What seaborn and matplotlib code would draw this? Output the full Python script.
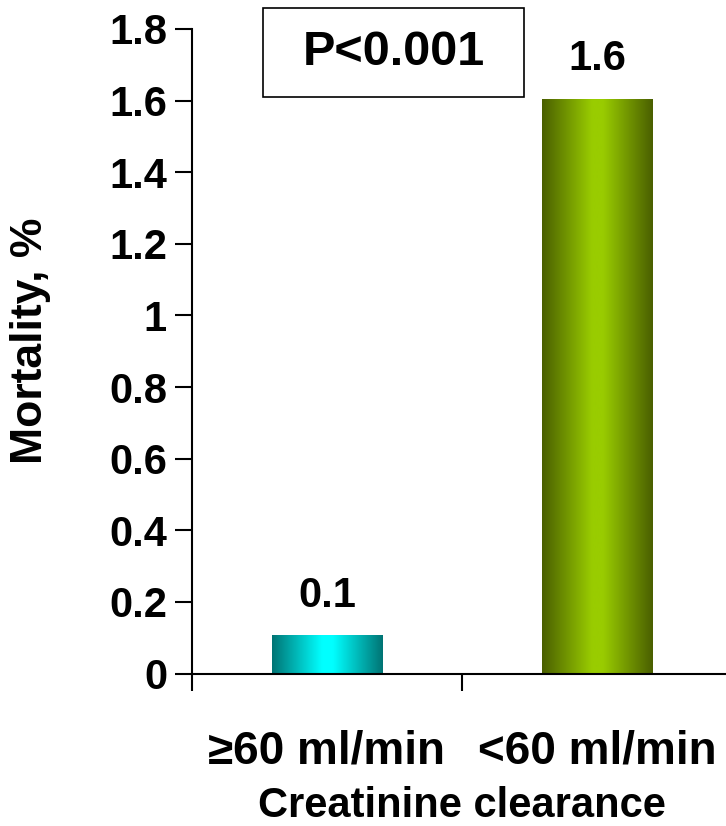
import numpy as np
import pandas as pd
import matplotlib
matplotlib.use("Agg")
import matplotlib.pyplot as plt
from matplotlib.colors import LinearSegmentedColormap
from matplotlib.patches import Rectangle
import seaborn as sns

# Data
categories = ["≥60 ml/min", "<60 ml/min"]
mortality = [0.107, 1.605]
bar_labels = ["0.1", "1.6"]
edge_colors = ["#007474", "#4a5f00"]
center_colors = ["#00ffff", "#99cc00"]

df = pd.DataFrame({"clearance": categories, "mortality": mortality})

sns.set_style("white")
plt.rcParams["font.family"] = ["Liberation Sans", "DejaVu Sans"]
plt.rcParams["font.weight"] = "bold"
plt.rcParams["text.color"] = "black"
plt.rcParams["axes.labelcolor"] = "black"
plt.rcParams["xtick.color"] = "black"
plt.rcParams["ytick.color"] = "black"

fig = plt.figure(figsize=(7.26, 8.26), dpi=100)
ax = fig.add_axes([192 / 726, 1 - 673.5 / 826, 540 / 726, 644.5 / 826])

sns.barplot(data=df, x="clearance", y="mortality", ax=ax, width=0.41,
            color="white", saturation=1, edgecolor="none")

# cylinder-like horizontal gradient for each bar
grad = np.linspace(0, 1, 256).reshape(1, -1)
for patch, c_edge, c_mid in zip(ax.patches, edge_colors, center_colors):
    cmap = LinearSegmentedColormap.from_list(
        "g", [(0, c_edge), (0.45, c_mid), (0.55, c_mid), (1, c_edge)])
    x0, y0 = patch.get_x(), patch.get_y()
    w, h = patch.get_width(), patch.get_height()
    im = ax.imshow(grad, cmap=cmap, aspect="auto", extent=[x0, x0 + w, y0, y0 + h],
                   zorder=2, interpolation="bilinear")
    im.set_clip_path(patch)
    patch.set_facecolor("none")

ax.set_xlim(-0.5, 1.5)
ax.set_ylim(0, 1.8)
ax.set_yticks(np.arange(0, 1.81, 0.2))
ax.set_yticklabels(["0", "0.2", "0.4", "0.6", "0.8", "1", "1.2", "1.4", "1.6", "1.8"])

for rect, lab in zip(ax.patches, bar_labels):
    ax.annotate(lab, (rect.get_x() + rect.get_width() / 2, rect.get_height()),
                xytext=(0, 14), textcoords="offset points", ha="center", va="bottom",
                fontsize=30, fontweight="bold")

ax.set_xticks([0, 1])
ax.set_xticklabels(categories)
ax.set_xticks([-0.5, 0.5, 1.5], minor=True)
ax.tick_params(axis="x", which="major", length=0, pad=40, labelsize=33)
ax.tick_params(axis="x", which="minor", length=12, width=1.5, direction="out", bottom=True)
ax.tick_params(axis="y", length=12, width=1.5, direction="out", left=True, pad=6, labelsize=30)

for s in ["top", "right"]:
    ax.spines[s].set_visible(False)
for s in ["left", "bottom"]:
    ax.spines[s].set_color("black")
    ax.spines[s].set_linewidth(1.5)

ax.set_ylabel("Mortality, %", fontsize=32, fontweight="bold")
ax.yaxis.set_label_coords(-0.262, 0.516)
ax.set_xlabel("Creatinine clearance", fontsize=30, fontweight="bold")
ax.xaxis.label.set_verticalalignment("baseline")
ax.xaxis.set_label_coords(0.5, -0.222)

# P value box
ax.add_patch(Rectangle((0.1315, 0.895), 0.483, 0.137, transform=ax.transAxes,
                       fill=False, edgecolor="black", linewidth=1.2, clip_on=False))
ax.text(0.1315 + 0.483 / 2, 0.895 + 0.137 / 2, "P<0.001", transform=ax.transAxes,
        ha="center", va="center", fontsize=35, fontweight="bold")

fig.savefig("out.png", dpi=100)
